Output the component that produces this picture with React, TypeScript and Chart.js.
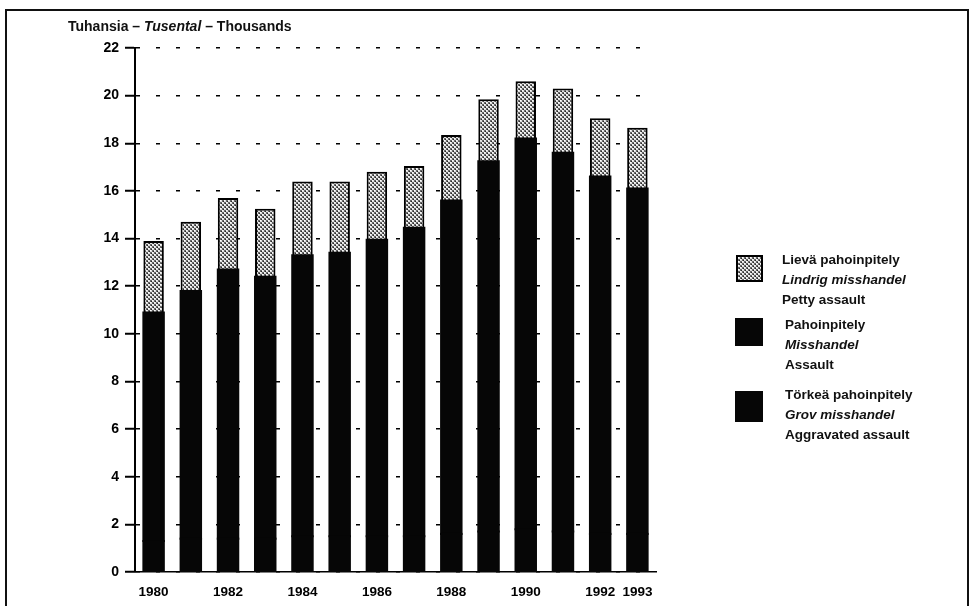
import React, { useEffect, useRef } from 'react';
import { Chart, registerables } from 'chart.js';

Chart.register(...registerables);

// ---- Data (thousands of offences) ----
const years = ['1980', '1981', '1982', '1983', '1984', '1985', '1986', '1987', '1988', '1989', '1990', '1991', '1992', '1993'];
const xTickLabels = ['1980', '', '1982', '', '1984', '', '1986', '', '1988', '', '1990', '', '1992', '1993'];
const yMin = 0;
const yMax = 22;
const yStep = 2;

// Törkeä pahoinpitely / Grov misshandel / Aggravated assault (bottom, black)
const aggravated = [1.3, 1.4, 1.4, 1.4, 1.5, 1.5, 1.5, 1.5, 1.6, 1.7, 1.8, 1.7, 1.6, 1.6];
// Pahoinpitely / Misshandel / Assault (middle, black)
const assault = [9.6, 10.4, 11.3, 11.0, 11.8, 11.9, 12.45, 12.95, 14.0, 15.55, 16.4, 15.9, 15.0, 14.5];
// Lievä pahoinpitely / Lindrig misshandel / Petty assault (top, grey pattern)
const petty = [3.0, 2.9, 3.0, 2.85, 3.1, 3.0, 2.85, 2.6, 2.75, 2.6, 2.4, 2.7, 2.45, 2.55];

const pettyNames = ['Lievä pahoinpitely', 'Lindrig misshandel', 'Petty assault'];
const assaultNames = ['Pahoinpitely', 'Misshandel', 'Assault'];
const aggravatedNames = ['Törkeä pahoinpitely', 'Grov misshandel', 'Aggravated assault'];

const titleParts = ['Tuhansia – ', 'Tusental', ' – Thousands'];

const FONT = '"Liberation Sans", Arial, Helvetica, sans-serif';
const BLACK = '#060606';

function makePattern(ctx: CanvasRenderingContext2D): CanvasPattern | string {
  const c = document.createElement('canvas');
  c.width = 4;
  c.height = 4;
  const p = c.getContext('2d');
  if (!p) return '#a0a0a0';
  p.fillStyle = '#e0e0e0';
  p.fillRect(0, 0, 4, 4);
  p.fillStyle = '#666666';
  p.fillRect(2, 0, 2, 2);
  p.fillRect(0, 2, 2, 2);
  p.fillStyle = '#262626';
  p.fillRect(3, 1, 1, 1);
  p.fillRect(1, 3, 1, 1);
  p.fillStyle = '#ffffff';
  p.fillRect(0, 0, 1, 1);
  p.fillRect(2, 2, 1, 1);
  const pat = ctx.createPattern(c, 'repeat');
  return pat || '#a0a0a0';
}

const legendText: React.CSSProperties = {
  fontFamily: FONT,
  fontWeight: 700,
  fontSize: '13.5px',
  lineHeight: '20px',
  color: '#111',
  whiteSpace: 'nowrap',
};

function LegendGroup(props: { names: string[]; top: number; left: number }) {
  const { names, top, left } = props;
  return (
    <div style={{ position: 'absolute', left, top, ...legendText }}>
      <div>{names[0]}</div>
      <div style={{ fontStyle: 'italic' }}>{names[1]}</div>
      <div>{names[2]}</div>
    </div>
  );
}

export default function App() {
  const canvasRef = useRef<HTMLCanvasElement | null>(null);
  const legendBoxRef = useRef<HTMLCanvasElement | null>(null);

  useEffect(() => {
    const canvas = canvasRef.current;
    if (!canvas) return;
    const ctx = canvas.getContext('2d');
    if (!ctx) return;
    const pattern = makePattern(ctx);

    const lb = legendBoxRef.current;
    if (lb) {
      const lctx = lb.getContext('2d');
      if (lctx) {
        lctx.fillStyle = makePattern(lctx) as any;
        lctx.fillRect(0, 0, lb.width, lb.height);
        lctx.strokeStyle = '#000';
        lctx.lineWidth = 2;
        lctx.strokeRect(1, 1, lb.width - 2, lb.height - 2);
      }
    }

    const chart = new Chart(ctx, {
      type: 'bar',
      data: {
        labels: years,
        datasets: [
          {
            label: aggravatedNames[2],
            data: aggravated,
            backgroundColor: BLACK,
            borderWidth: 0,
            inflateAmount: 1,
          },
          {
            label: assaultNames[2],
            data: assault,
            backgroundColor: BLACK,
            borderWidth: 0,
            inflateAmount: 1,
          },
          {
            label: pettyNames[2],
            data: petty,
            backgroundColor: pattern as any,
            borderColor: '#000',
            borderWidth: 2,
          },
        ],
      },
      options: {
        responsive: false,
        animation: false,
        maintainAspectRatio: false,
        datasets: {
          bar: {
            barPercentage: 0.55,
            categoryPercentage: 1.0,
          },
        },
        layout: {
          padding: { left: 0, right: 316, top: 48, bottom: 0 },
        },
        plugins: {
          legend: { display: false },
          tooltip: { enabled: false },
          title: { display: false },
        },
        scales: {
          x: {
            stacked: true,
            offset: true,
            grid: {
              display: true,
              drawOnChartArea: false,
              drawTicks: false,
            },
            border: { display: true, color: '#000', width: 1.5 },
            ticks: {
              autoSkip: false,
              maxRotation: 0,
              minRotation: 0,
              padding: 12,
              color: '#000',
              font: { family: FONT, size: 13.5, weight: 'bold' },
              callback: (_v: any, i: number) => xTickLabels[i],
            },
            afterFit: (s: any) => {
              s.height = 34;
            },
          },
          y: {
            stacked: true,
            min: yMin,
            max: yMax,
            ticks: {
              stepSize: yStep,
              padding: 6,
              color: '#000',
              font: { family: FONT, size: 14, weight: 'bold' },
            },
            grid: {
              color: '#000',
              lineWidth: 1.5,
              drawTicks: true,
              tickLength: 10,
              tickColor: '#000',
              tickWidth: 2,
            },
            border: { display: true, color: '#000', width: 2, dash: [4, 16] },
            afterFit: (s: any) => {
              s.width = 135;
            },
          },
        },
      },
    } as any);

    return () => {
      chart.destroy();
    };
  }, []);

  return (
    <div
      style={{
        position: 'fixed',
        left: 0,
        top: 0,
        width: 972,
        height: 606,
        overflow: 'hidden',
        background: '#fff',
      }}
    >
      <div
        style={{
          position: 'absolute',
          left: 5,
          top: 9,
          width: 960,
          height: 620,
          borderLeft: '2px solid #111',
          borderTop: '2px solid #111',
          borderRight: '2px solid #111',
        }}
      />
      <canvas
        ref={canvasRef}
        width={972}
        height={606}
        style={{ position: 'absolute', left: 0, top: 0, width: 972, height: 606 }}
      />
      <div
        style={{
          position: 'absolute',
          left: 68,
          top: 18,
          fontFamily: FONT,
          fontWeight: 700,
          fontSize: '14px',
          lineHeight: '16px',
          color: '#111',
          whiteSpace: 'nowrap',
        }}
      >
        {titleParts[0]}
        <span style={{ fontStyle: 'italic' }}>{titleParts[1]}</span>
        {titleParts[2]}
      </div>

      <canvas
        ref={legendBoxRef}
        width={27}
        height={27}
        style={{ position: 'absolute', left: 736, top: 255, width: 27, height: 27 }}
      />
      <LegendGroup names={pettyNames} left={782} top={250} />

      <div style={{ position: 'absolute', left: 735, top: 318, width: 28, height: 28, background: BLACK }} />
      <LegendGroup names={assaultNames} left={785} top={315} />

      <div style={{ position: 'absolute', left: 735, top: 391, width: 28, height: 31, background: BLACK }} />
      <LegendGroup names={aggravatedNames} left={785} top={385} />
    </div>
  );
}
